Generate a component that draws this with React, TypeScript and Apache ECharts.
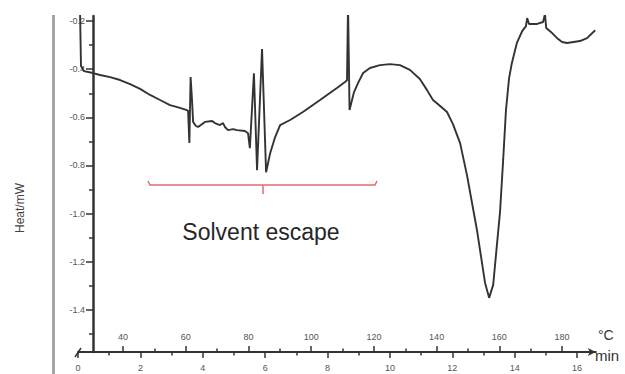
import React, { useEffect, useRef } from "react";
import * as echarts from "echarts";

// DSC trace: time (min) vs heat flow (mW)
const timeMin = [
  0.064, 0.096, 0.19, 0.48, 0.705, 1.03, 1.35, 1.67, 1.99, 2.31, 2.63, 2.95, 3.27, 3.49,
  3.53, 3.57, 3.61, 3.655, 3.69, 3.78, 3.85, 4.07, 4.30, 4.39, 4.55, 4.65, 4.71, 4.81,
  4.97, 5.10, 5.35, 5.45, 5.51, 5.64, 5.74, 5.90, 6.03, 6.16, 6.32, 6.48, 6.80, 7.21,
  7.76, 8.30, 8.56, 8.624, 8.657, 8.705, 8.849, 8.977, 9.14, 9.36, 9.68, 10.0, 10.32,
  10.64, 10.96, 11.19, 11.38, 11.61, 11.83, 12.02, 12.25, 12.47, 12.79, 13.05, 13.18,
  13.31, 13.43, 13.53, 13.63, 13.72, 13.82, 13.91, 14.07, 14.24, 14.36, 14.40, 14.46,
  14.72, 14.91, 14.97, 15.01, 15.20, 15.36, 15.52, 15.68, 16.09, 16.32, 16.58,
];
const heatMw = [
  -0.15, -0.387, -0.408, -0.416, -0.424, -0.433, -0.445, -0.462, -0.482, -0.507, -0.528,
  -0.549, -0.561, -0.57, -0.574, -0.707, -0.433, -0.528, -0.619, -0.636, -0.64, -0.619,
  -0.615, -0.624, -0.632, -0.624, -0.64, -0.653, -0.649, -0.653, -0.657, -0.666, -0.728,
  -0.417, -0.82, -0.316, -0.828, -0.749, -0.682, -0.632, -0.611, -0.578, -0.528, -0.478,
  -0.453, -0.446, -0.13, -0.57, -0.495, -0.458, -0.416, -0.395, -0.383, -0.379, -0.383,
  -0.403, -0.441, -0.487, -0.528, -0.553, -0.578, -0.628, -0.707, -0.84, -1.068, -1.288,
  -1.35, -1.296, -1.13, -0.993, -0.777, -0.57, -0.437, -0.374, -0.291, -0.242, -0.221,
  -0.188, -0.212, -0.212, -0.204, -0.171, -0.229, -0.25, -0.271, -0.287, -0.291, -0.283,
  -0.271, -0.238,
];

const minuteLabels = [0, 2, 4, 6, 8, 10, 12, 14, 16];
const minuteMinor = [1, 3, 5, 7, 9, 11, 13, 15];
const tempLabels = [40, 60, 80, 100, 120, 140, 160, 180];
const tempMinor = [50, 70, 90, 110, 130, 150, 170];
const heatLabels = [-0.2, -0.4, -0.6, -0.8, -1.0, -1.2, -1.4];
const heatMinor = [-0.3, -0.5, -0.7, -0.9, -1.1, -1.3, -1.5];

const FONT = '"Liberation Sans", Arial, sans-serif';
const AXIS = "#333";
const LABEL = "#555";

export default function App() {
  const ref = useRef<HTMLDivElement>(null);
  useEffect(() => {
    if (!ref.current) return;
    const chart = echarts.init(ref.current, undefined, { renderer: "svg" });
    const X_MAX = 16.6;
    const T_MIN = 25.65;
    const T_MAX = T_MIN + (X_MAX * 31.19) / 3.136;
    const Y_MIN = -1.575;
    const Y_MAX = -0.179;
    const hiddenLine = { show: false };
    chart.setOption({
      animation: false,
      backgroundColor: "#fff",
      grid: { left: 78, right: 29.2, top: 16, bottom: 22 },
      xAxis: [
        {
          type: "value",
          min: 0,
          max: X_MAX,
          position: "bottom",
          axisLine: {
            show: true,
            onZero: false,
            symbol: ["none", "arrow"],
            symbolSize: [6, 8],
            lineStyle: { color: AXIS, width: 2 },
          },
          axisTick: { show: true, customValues: minuteLabels, length: 6, lineStyle: { color: AXIS, width: 1.5 } },
          axisLabel: { customValues: minuteLabels, margin: 11, fontSize: 9, color: LABEL, fontFamily: FONT },
          splitLine: { show: false },
        },
        {
          type: "value",
          min: 0,
          max: X_MAX,
          position: "bottom",
          axisLine: hiddenLine,
          axisTick: { show: true, customValues: minuteMinor, length: 3.5, lineStyle: { color: AXIS, width: 1.5 } },
          axisLabel: { show: false },
          splitLine: { show: false },
        },
        {
          type: "value",
          min: T_MIN,
          max: T_MAX,
          position: "bottom",
          axisLine: hiddenLine,
          axisTick: { show: true, inside: true, customValues: tempLabels, length: 6, lineStyle: { color: AXIS, width: 1.5 } },
          axisLabel: { inside: true, customValues: tempLabels, margin: 11, fontSize: 9, color: LABEL, fontFamily: FONT },
          splitLine: { show: false },
        },
        {
          type: "value",
          min: T_MIN,
          max: T_MAX,
          position: "bottom",
          axisLine: hiddenLine,
          axisTick: { show: true, inside: true, customValues: tempMinor, length: 3.5, lineStyle: { color: AXIS, width: 1.5 } },
          axisLabel: { show: false },
          splitLine: { show: false },
        },
      ],
      yAxis: [
        {
          type: "value",
          min: Y_MIN,
          max: Y_MAX,
          position: "left",
          offset: -15,
          axisLine: { show: true, onZero: false, lineStyle: { color: AXIS, width: 2.5 } },
          axisTick: { show: true, customValues: heatLabels, length: 7, lineStyle: { color: AXIS, width: 1.5 } },
          axisLabel: {
            customValues: heatLabels,
            formatter: (v: number) => v.toFixed(1),
            margin: 8,
            fontSize: 9,
            color: LABEL,
            fontFamily: FONT,
          },
          splitLine: { show: false },
        },
        {
          type: "value",
          min: Y_MIN,
          max: Y_MAX,
          position: "left",
          offset: -15,
          axisLine: { show: false, onZero: false },
          axisTick: { show: true, customValues: heatMinor, length: 4, lineStyle: { color: AXIS, width: 1.5 } },
          axisLabel: { show: false },
          splitLine: { show: false },
        },
      ],
      series: [
        {
          type: "line",
          xAxisIndex: 0,
          yAxisIndex: 0,
          data: timeMin.map((t, i) => [t, heatMw[i]]),
          showSymbol: false,
          clip: true,
          lineStyle: { color: AXIS, width: 1.9 },
        },
      ],
      graphic: [
        { type: "rect", shape: { x: 52, y: 15, width: 3, height: 359 }, style: { fill: "#a5a5a5" } },
        { type: "line", shape: { x1: 75, y1: 357, x2: 81, y2: 348 }, style: { stroke: AXIS, lineWidth: 1.5 } },
        {
          type: "polyline",
          shape: { points: [[148, 181], [150, 185], [375, 185], [377, 181]] },
          style: { stroke: "#e8686c", lineWidth: 1.5, fill: null },
        },
        { type: "line", shape: { x1: 263, y1: 185, x2: 263, y2: 194 }, style: { stroke: "#e8686c", lineWidth: 1.5 } },
        {
          type: "text",
          x: 261,
          y: 232,
          style: {
            text: "Solvent escape",
            fontSize: 23,
            fontFamily: FONT,
            fill: "#262626",
            textAlign: "center",
            textVerticalAlign: "middle",
          },
        },
        {
          type: "text",
          x: 20,
          y: 208,
          rotation: Math.PI / 2,
          style: {
            text: "Heat/mW",
            fontSize: 12,
            fontFamily: FONT,
            fill: "#444",
            textAlign: "center",
            textVerticalAlign: "middle",
          },
        },
        {
          type: "text",
          x: 598,
          y: 335,
          style: { text: "°C", fontSize: 14, fontFamily: FONT, fill: "#333", textAlign: "left", textVerticalAlign: "middle" },
        },
        {
          type: "text",
          x: 595,
          y: 355,
          style: { text: "min", fontSize: 15, fontFamily: FONT, fill: "#333", textAlign: "left", textVerticalAlign: "middle" },
        },
      ],
    });
    return () => chart.dispose();
  }, []);
  return <div ref={ref} style={{ position: "fixed", left: 0, top: 0, width: 625, height: 374 }} />;
}
